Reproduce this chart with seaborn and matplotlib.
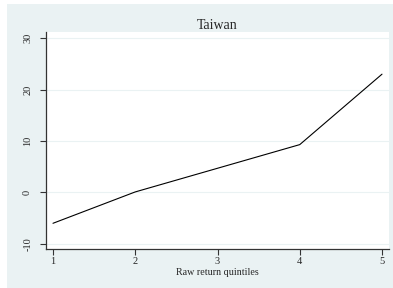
import matplotlib
matplotlib.use("Agg")
import matplotlib.pyplot as plt
import seaborn as sns
import pandas as pd
from matplotlib.patches import Rectangle

quintiles = [1, 2, 3, 4, 5]
returns = [-6.0, 0.1, 4.7, 9.3, 23.0]
yticks = [-10, 0, 10, 20, 30]
title = "Taiwan"
xlabel = "Raw return quintiles"

sns.set_style("white")
plt.rcParams['font.family'] = ['Liberation Serif', 'DejaVu Serif']

df = pd.DataFrame({"q": quintiles, "r": returns})

W, H = 393, 288
fig = plt.figure(figsize=(W / 100, H / 100), dpi=100, facecolor="white")
bg = "#EAF2F3"
bgax = fig.add_axes([0, 0, 1, 1], zorder=0)
bgax.set_axis_off()
bgax.add_patch(Rectangle((7 / W, 0), 1 - 7 / W, (H - 4) / H, transform=bgax.transAxes,
                         facecolor=bg, edgecolor="none"))

ax = fig.add_axes([46 / W, (H - 249) / H, (389 - 46) / W, (249 - 32) / H], zorder=1)
ax.set_facecolor("white")
sns.lineplot(data=df, x="q", y="r", ax=ax, color="black", linewidth=0.8)

ax.set_xlim(0.915, 5.085)
ax.set_ylim(-11.0, 31.2)
ax.set_xticks(quintiles)
ax.set_yticks(yticks)
ax.set_xticklabels([str(q) for q in quintiles], fontsize=7.5)
ax.set_yticklabels([str(t) for t in yticks], fontsize=7.5, rotation=90, va="center")
ax.set_xlabel(xlabel, fontsize=7.2, labelpad=1)
ax.set_ylabel("")
ax.set_title(title, fontsize=10, pad=2)

for y in yticks:
    ax.axhline(y, color=bg, linewidth=0.8, zorder=0)

for s in ["top", "right"]:
    ax.spines[s].set_visible(False)
for s in ["left", "bottom"]:
    ax.spines[s].set_color("#333333")
    ax.spines[s].set_linewidth(0.9)
ax.tick_params(axis="both", direction="out", length=4, width=0.8, color="#333333", pad=2)
ax.tick_params(axis="y", pad=6)
ax.tick_params(left=True, bottom=True)

fig.savefig("out.png", dpi=100, facecolor=fig.get_facecolor())
